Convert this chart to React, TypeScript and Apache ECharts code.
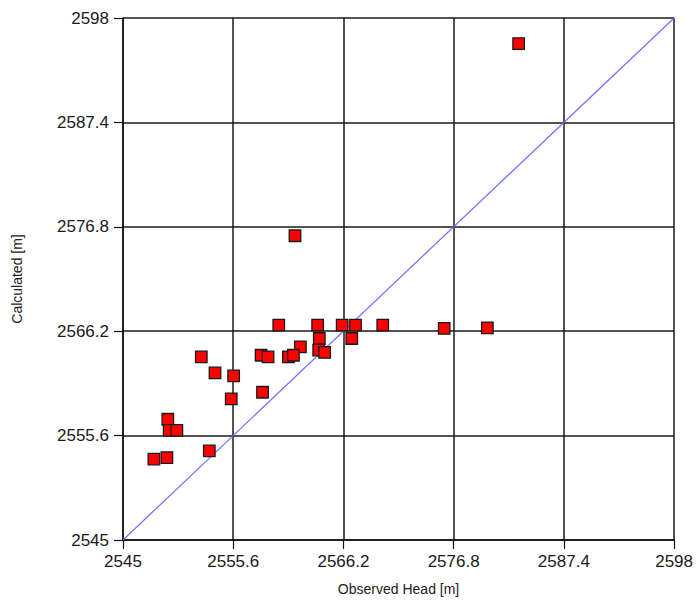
import React, { useEffect, useRef } from "react";
import * as echarts from "echarts";

const tickValues = [2545, 2555.6, 2566.2, 2576.8, 2587.4, 2598];
const observed = [
  2583.05, 2561.54, 2559.98, 2563.72, 2566.08, 2567.36, 2569.98, 2575.89, 2580.04,
  2563.88, 2567.0, 2562.06, 2563.82, 2564.39, 2558.28, 2558.95, 2560.91, 2561.39,
  2552.53, 2553.85, 2555.64, 2558.42, 2555.41, 2549.31, 2549.44, 2550.18, 2553.3,
  2547.97, 2549.22,
];
const calculated = [
  2595.4, 2575.89, 2566.81, 2566.81, 2566.81, 2566.81, 2566.81, 2566.48, 2566.54,
  2565.46, 2565.46, 2564.61, 2564.27, 2564.04, 2563.76, 2563.59, 2563.59, 2563.76,
  2563.59, 2561.96, 2561.66, 2560.0, 2559.32, 2557.26, 2556.14, 2556.14, 2554.04,
  2553.22, 2553.36,
];
const axisMin = 2545;
const axisMax = 2598;

export default function App() {
  const ref = useRef<HTMLDivElement>(null);
  useEffect(() => {
    if (!ref.current) return;
    const chart = echarts.init(ref.current, null, { renderer: "svg" });
    const font = "'Liberation Sans', Arial, sans-serif";
    const fmt = (v: number) => String(Math.round(v * 10) / 10);
    const axisCommon = {
      type: "value" as const,
      min: axisMin,
      max: axisMax,
      nameLocation: "middle" as const,
      nameTextStyle: { fontFamily: font, fontSize: 14, color: "#222" },
      axisLine: { show: true, lineStyle: { color: "#111", width: 1.5 } },
      axisTick: {
        show: true,
        length: 9,
        customValues: tickValues,
        lineStyle: { color: "#111", width: 1.2 },
      },
      axisLabel: {
        customValues: tickValues,
        fontFamily: font,
        fontSize: 17,
        color: "#1a1a1a",
        formatter: fmt,
      },
      splitLine: { show: true, lineStyle: { color: "#1a1a1a", width: 1.5 } },
    };
    const points = observed.map((x, i) => [x, calculated[i]]);
    chart.setOption({
      animation: false,
      backgroundColor: "#ffffff",
      grid: { left: 123, right: 20, top: 18, bottom: 63, containLabel: false },
      xAxis: {
        ...axisCommon,
        name: "Observed Head [m]",
        nameGap: 42,
        axisLabel: { ...axisCommon.axisLabel, margin: 13 },
      },
      yAxis: {
        ...axisCommon,
        name: "Calculated [m]",
        nameGap: 99,
        axisLabel: { ...axisCommon.axisLabel, margin: 14 },
      },
      series: [
        {
          type: "line",
          data: [
            [axisMin, axisMin],
            [axisMax, axisMax],
          ],
          symbol: "none",
          lineStyle: { color: "#6f6fff", width: 1.2 },
          silent: true,
          z: 3,
        },
        {
          type: "scatter",
          data: points,
          symbol: "rect",
          symbolSize: 11.5,
          itemStyle: { color: "#ff0000", borderColor: "#1a1a1a", borderWidth: 1.3, opacity: 1 },
          z: 4,
        },
      ],
    });
    return () => chart.dispose();
  }, []);
  return (
    <div
      ref={ref}
      style={{ position: "absolute", left: 0, top: 0, width: 696, height: 603 }}
    />
  );
}
